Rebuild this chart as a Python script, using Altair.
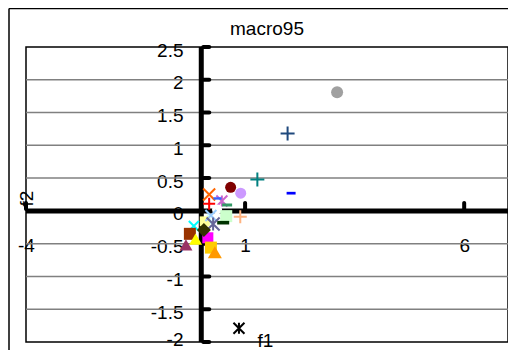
import altair as alt
import pandas as pd

# ---- data ----
series = [f"S{i}" for i in range(1, 29)]
f1 = [3.10, 1.97, 1.28, 2.05, 0.67, 0.90, 0.18, 0.18, 0.47, 0.37,
      0.59, 0.36, 0.89, 0.57, 0.15, 0.08, 0.22, 0.50, 0.27, -0.17,
      -0.26, -0.13, 0.15, 0.06, -0.35, 0.22, 0.31, 0.86]
f2 = [1.81, 1.18, 0.48, 0.27, 0.36, 0.27, 0.25, 0.11, 0.15, 0.19,
      0.09, 0.02, -0.09, -0.08, -0.12, -0.16, -0.07, -0.18, -0.20, -0.23,
      -0.35, -0.43, -0.41, -0.29, -0.52, -0.56, -0.63, -1.79]
x_ticks = [-4, 1, 6]
y_ticks = [-2, -1.5, -1, -0.5, 0, 0.5, 1, 1.5, 2, 2.5]

# ---- marker styles (Excel-like series markers) ----
PLUS = "M-1,0L1,0M0,-1L0,1"
XMK = "M-1,-1L1,1M-1,1L1,-1"
STAR = "M-1,-1L1,1M-1,1L1,-1M0,-1L0,1"
DASH = "M-1,-0.3L1,-0.3L1,0.3L-1,0.3Z"
styles = [
    ("circle", "#A0A0A0", 12), ("plus", "#1F497D", 14), ("plus", "#008080", 14),
    ("dash", "#0000FF", 9), ("circle", "#800000", 11), ("circle", "#CC99FF", 11),
    ("x", "#FF6600", 12), ("plus", "#FF0000", 12), ("star", "#CC66CC", 11),
    ("dash", "#3366FF", 8), ("dash", "#339966", 10), ("circle", "#FFFFFF", 10),
    ("plus", "#FFB380", 13), ("square", "#CCFFCC", 12), ("triangle-up", "#CCFFFF", 12),
    ("square", "#FFFF99", 10), ("x", "#99CCFF", 11), ("dash", "#003300", 12),
    ("star", "#666699", 13), ("x", "#00FFFF", 10), ("square", "#993300", 12),
    ("triangle-up", "#FFFF00", 13), ("square", "#FF00FF", 11), ("diamond", "#333300", 14),
    ("triangle-up", "#993366", 13), ("square", "#FFCC00", 12), ("triangle-up", "#FF9900", 14),
    ("star", "#000000", 11),
]
paths = {"plus": PLUS, "x": XMK, "star": STAR, "dash": DASH}
line_shapes = {"plus", "x", "star"}

rows = []
for name, xv, yv, (shp, col, d) in zip(series, f1, f2, styles):
    rows.append({
        "series": name, "f1": xv, "f2": yv,
        "shape": paths.get(shp, shp),
        "fill": "transparent" if shp in line_shapes else col,
        "stroke": col if shp in line_shapes else "transparent",
        "size": d * d,
    })
df = pd.DataFrame(rows)

FONT = "Liberation Sans"
xscale = alt.Scale(domain=[-4, 7], nice=False, zero=False)
yscale = alt.Scale(domain=[-2, 2.5], nice=False, zero=False)

xaxis = alt.Axis(values=x_ticks, labelExpr="'' + datum.value", offset=-131,
                 domain=False, ticks=False, grid=False, labelPadding=25,
                 labelFlush=False, labelOverlap=False, labelBound=False,
                 labelFontSize=19, labelFont=FONT, labelColor="black",
                 title="f1", titleX=239, titleY=129, titleFontSize=19,
                 titleFont=FONT, titleFontWeight="normal", titleColor="black",
                 titleBaseline="middle", titleAlign="center")
yaxis = alt.Axis(values=y_ticks, labelExpr="'' + datum.value", offset=-175,
                 domain=False, ticks=False, grid=False, labelPadding=18,
                 labelOffset={"condition": {"test": "datum.value <= -2", "value": -3}, "value": 3},
                 labelFlush=False, labelOverlap=False, labelBound=False,
                 labelFontSize=19, labelFont=FONT, labelColor="black",
                 title="f2", titleX=-175, titleY=151, titleAngle=270, titleFontSize=19,
                 titleFont=FONT, titleFontWeight="normal", titleColor="black",
                 titleBaseline="middle", titleAlign="center")

one = pd.DataFrame({"z": [0]})

grid_df = pd.DataFrame({"g": y_ticks[1:-1]})
grid = alt.Chart(grid_df).mark_rule(color="#808080", strokeWidth=1.5).encode(
    y=alt.Y("g:Q", scale=yscale, axis=yaxis))

xline = alt.Chart(one).mark_rule(color="black", strokeWidth=5).encode(
    y=alt.Y("z:Q", scale=yscale, axis=yaxis))
yline = alt.Chart(one).mark_rule(color="black", strokeWidth=5).encode(
    x=alt.X("z:Q", scale=xscale, axis=xaxis))

ytick_df = pd.DataFrame({"t": y_ticks, "z": [0] * len(y_ticks)})
yticks = alt.Chart(ytick_df).mark_tick(orient="horizontal", size=10, thickness=4,
                                       xOffset=5, cornerRadius=2, color="black", opacity=1).encode(
    x=alt.X("z:Q", scale=xscale, axis=xaxis), y=alt.Y("t:Q", scale=yscale, axis=yaxis))
xtick_df = pd.DataFrame({"t": x_ticks, "z": [0] * len(x_ticks)})
xticks = alt.Chart(xtick_df).mark_tick(orient="vertical", size=10, thickness=4,
                                       yOffset=-5, cornerRadius=2, color="black", opacity=1).encode(
    x=alt.X("t:Q", scale=xscale, axis=xaxis), y=alt.Y("z:Q", scale=yscale, axis=yaxis))

points = alt.Chart(df).mark_point(opacity=1, strokeWidth=2).encode(
    x=alt.X("f1:Q", scale=xscale, axis=xaxis),
    y=alt.Y("f2:Q", scale=yscale, axis=yaxis),
    shape=alt.Shape("shape:N", scale=None),
    fill=alt.Fill("fill:N", scale=None),
    stroke=alt.Stroke("stroke:N", scale=None),
    size=alt.Size("size:Q", scale=None),
)

frame_left = alt.Chart(one).mark_rule(color="black", strokeWidth=1.5).encode(
    x=alt.value(-17), y=alt.value(-38.5), y2=alt.value(310))
frame_top = alt.Chart(one).mark_rule(color="black", strokeWidth=1.5).encode(
    x=alt.value(-17), x2=alt.value(482), y=alt.value(-38.5))

chart = alt.layer(frame_left, frame_top, grid, xline, yline, yticks, xticks, points).properties(
    width=482, height=295,
    padding={"left": 18, "top": 39, "right": 0, "bottom": 8},
    autosize=alt.AutoSizeParams(type="none"),
    title=alt.TitleParams(text="macro95", fontSize=19, font=FONT, fontWeight="normal",
                          color="black", baseline="alphabetic", offset=13, dy=59,
                          frame="group", anchor="middle"),
    background="white",
).configure_view(stroke="black", strokeWidth=1.5)

chart.save("out.html", embed_options={"renderer": "svg", "actions": False})
